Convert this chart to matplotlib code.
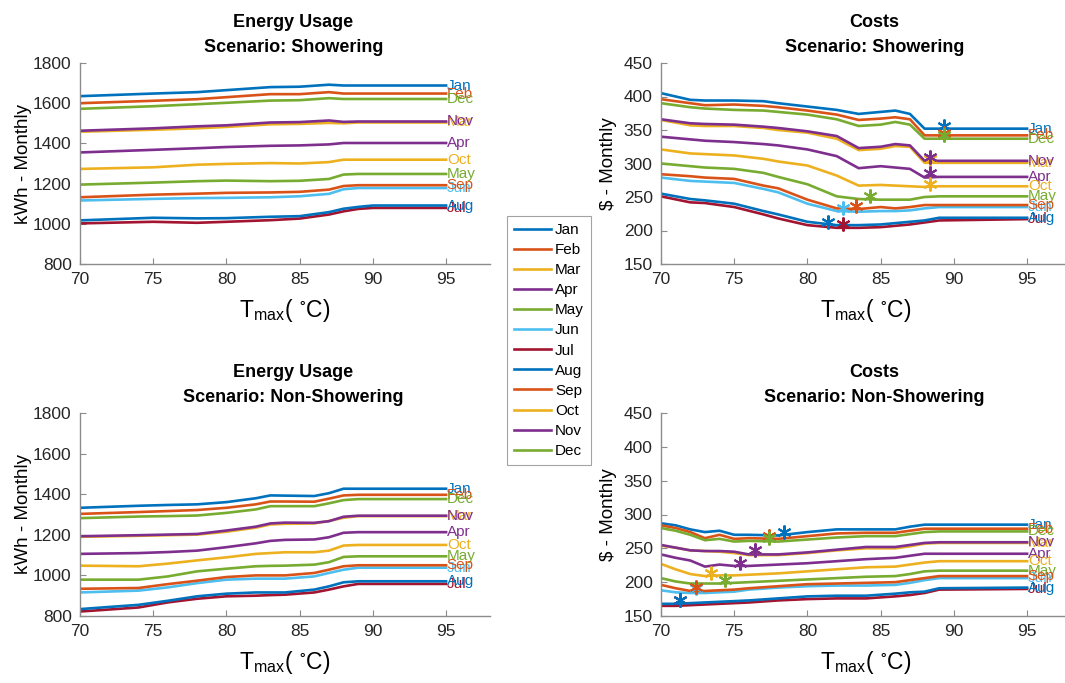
import matplotlib
matplotlib.use("Agg")
import matplotlib.pyplot as plt
import numpy as np

plt.rcParams['font.family'] = ['Liberation Sans', 'DejaVu Sans']
plt.rcParams['mathtext.fontset'] = 'custom'
plt.rcParams['mathtext.rm'] = 'Liberation Sans'

months = ["Jan", "Feb", "Mar", "Apr", "May", "Jun", "Jul", "Aug", "Sep", "Oct", "Nov", "Dec"]
colors = ["#0072BD", "#D95319", "#EDB120", "#7E2F8E", "#77AC30", "#4DBEEE", "#A2142F",
          "#0072BD", "#D95319", "#EDB120", "#7E2F8E", "#77AC30"]

# ---- Energy Usage, Showering ----
x_es = [70, 75, 78, 80, 83, 85, 87, 88, 89, 90, 95]
energy_shower = {
    "Jan": [1635, 1648, 1655, 1665, 1680, 1682, 1692, 1688, 1688, 1688, 1688],
    "Feb": [1600, 1612, 1620, 1630, 1645, 1645, 1655, 1648, 1648, 1648, 1648],
    "Mar": [1458, 1468, 1475, 1482, 1495, 1497, 1502, 1500, 1504, 1504, 1504],
    "Apr": [1355, 1368, 1376, 1382, 1388, 1390, 1395, 1402, 1402, 1402, 1402],
    "May": [1195, 1205, 1212, 1215, 1212, 1214, 1223, 1245, 1248, 1248, 1248],
    "Jun": [1116, 1124, 1128, 1129, 1132, 1137, 1149, 1172, 1178, 1178, 1178],
    "Jul": [1002, 1010, 1005, 1010, 1018, 1026, 1046, 1062, 1074, 1079, 1079],
    "Aug": [1017, 1030, 1027, 1028, 1035, 1038, 1058, 1075, 1084, 1091, 1091],
    "Sep": [1132, 1145, 1150, 1154, 1156, 1159, 1170, 1188, 1192, 1192, 1192],
    "Oct": [1273, 1281, 1294, 1298, 1302, 1300, 1307, 1319, 1319, 1319, 1319],
    "Nov": [1463, 1475, 1485, 1490, 1504, 1506, 1514, 1507, 1509, 1509, 1509],
    "Dec": [1572, 1585, 1595, 1602, 1613, 1615, 1625, 1621, 1621, 1621, 1621],
}

# ---- Costs, Showering ----
x_cs = [70, 72, 73, 75, 77, 78, 80, 82, 83.5, 85, 86, 87, 88, 89, 95]
cost_shower = {
    "Jan": [405, 395, 394, 394, 393, 390, 385, 380, 374, 377, 379, 374, 352, 352, 352],
    "Feb": [396, 390, 387, 388, 386, 384, 379, 373, 365, 367, 369, 366, 342, 342, 342],
    "Mar": [365, 357, 356, 356, 353, 350, 346, 337, 320, 322, 326, 325, 301, 301, 301],
    "Apr": [340, 336, 334, 332, 329, 327, 321, 311, 293, 296, 294, 292, 279, 280, 280],
    "May": [300, 296, 294, 292, 286, 280, 269, 251, 247, 246, 246, 246, 250, 251, 251],
    "Jun": [279, 274, 273, 271, 262, 257, 240, 229, 228, 229, 229, 230, 233, 235, 235],
    "Jul": [251, 242, 241, 235, 224, 218, 208, 204, 204, 205, 207, 209, 212, 215, 217],
    "Aug": [255, 247, 245, 240, 229, 224, 213, 208, 208, 209, 211, 213, 215, 219, 219],
    "Sep": [284, 281, 279, 277, 267, 263, 246, 233, 232, 235, 233, 235, 238, 238, 238],
    "Oct": [321, 315, 314, 312, 307, 303, 297, 282, 267, 268, 267, 266, 265, 266, 266],
    "Nov": [366, 360, 359, 358, 355, 353, 348, 341, 323, 325, 329, 327, 304, 304, 304],
    "Dec": [390, 384, 382, 380, 379, 377, 373, 366, 356, 358, 362, 358, 337, 337, 337],
}
star_x_cs = [89.3, 89.3, 88.4, 88.4, 84.3, 82.4, 82.4, 81.4, 83.3, 88.4, 88.4, 89.3]
star_y_cs = [356, 346, 306, 286, 252, 233, 209, 213, 237, 270, 309, 342]

# ---- Energy Usage, Non-Showering ----
x_en = [70, 74, 76, 78, 80, 82, 83, 84, 86, 87, 88, 89, 95]
energy_nonshower = {
    "Jan": [1333, 1343, 1347, 1350, 1361, 1380, 1394, 1393, 1391, 1405, 1427, 1427, 1427],
    "Feb": [1303, 1312, 1317, 1322, 1333, 1350, 1364, 1364, 1363, 1378, 1394, 1397, 1397],
    "Mar": [1190, 1195, 1198, 1201, 1215, 1235, 1251, 1254, 1256, 1268, 1284, 1292, 1292],
    "Apr": [1106, 1110, 1115, 1122, 1139, 1158, 1170, 1175, 1177, 1188, 1210, 1213, 1213],
    "May": [979, 979, 995, 1020, 1033, 1045, 1047, 1048, 1053, 1065, 1091, 1094, 1094],
    "Jun": [916, 925, 941, 962, 979, 984, 984, 984, 995, 1012, 1028, 1038, 1038],
    "Jul": [822, 842, 867, 885, 897, 900, 903, 905, 916, 930, 946, 958, 958],
    "Aug": [834, 855, 875, 897, 910, 916, 916, 916, 930, 946, 966, 971, 971],
    "Sep": [934, 938, 957, 974, 992, 1000, 1000, 1000, 1012, 1028, 1045, 1050, 1050],
    "Oct": [1048, 1045, 1058, 1074, 1089, 1106, 1110, 1114, 1114, 1122, 1147, 1150, 1150],
    "Nov": [1193, 1198, 1201, 1204, 1221, 1240, 1256, 1260, 1259, 1267, 1289, 1294, 1294],
    "Dec": [1282, 1290, 1292, 1295, 1308, 1325, 1341, 1341, 1341, 1355, 1371, 1376, 1376],
}

# ---- Costs, Non-Showering ----
x_cn = [70, 71, 72, 73, 74, 75, 76, 78, 80, 82, 84, 86, 87, 88, 89, 95]
cost_nonshower = {
    "Jan": [287, 284, 278, 274, 276, 270, 270, 269, 274, 278, 278, 278, 282, 285, 285, 285],
    "Feb": [284, 280, 274, 265, 270, 264, 265, 264, 268, 272, 273, 273, 276, 279, 279, 279],
    "Mar": [254, 251, 247, 246, 245, 243, 240, 240, 243, 247, 250, 250, 253, 257, 258, 258],
    "Apr": [241, 236, 232, 223, 226, 224, 224, 226, 228, 231, 234, 236, 239, 242, 242, 242],
    "May": [206, 201, 198, 198, 198, 199, 200, 202, 204, 206, 208, 209, 212, 216, 217, 217],
    "Jun": [188, 185, 184, 184, 185, 186, 189, 192, 194, 195, 195, 196, 199, 203, 206, 206],
    "Jul": [165, 165, 166, 167, 168, 169, 170, 173, 175, 176, 176, 179, 181, 184, 189, 190],
    "Aug": [168, 168, 169, 170, 171, 172, 173, 176, 179, 180, 180, 183, 185, 186, 191, 192],
    "Sep": [196, 191, 187, 187, 188, 189, 191, 194, 197, 198, 199, 200, 203, 206, 209, 209],
    "Oct": [227, 219, 212, 209, 210, 210, 211, 213, 216, 219, 222, 223, 226, 229, 231, 231],
    "Nov": [255, 251, 247, 246, 246, 245, 241, 241, 244, 248, 252, 252, 255, 258, 259, 259],
    "Dec": [280, 276, 270, 262, 264, 260, 261, 260, 263, 266, 268, 268, 271, 274, 275, 275],
}
star_x_cn = [78.4, 77.4, 76.4, 75.4, 74.4, 72.4, 71.3, 71.3, 72.4, 73.4, 76.4, 77.4]
star_y_cn = [274, 268, 247, 229, 203, 191, 173, 174, 193, 214, 247, 265]

W, H = 1065, 683
fig = plt.figure(figsize=(W / 100, H / 100), dpi=100)

def fx(px):
    return px / W

def fy(py):
    return 1 - py / H

ax_tl = fig.add_axes([fx(80), fy(264), fx(410), (264 - 63) / H])
ax_tr = fig.add_axes([fx(661), fy(264), fx(410), (264 - 63) / H])
ax_bl = fig.add_axes([fx(80), fy(616), fx(410), (616 - 413) / H])
ax_br = fig.add_axes([fx(661), fy(616), fx(410), (616 - 413) / H])

xlabel = r'$\mathregular{T_{max}(\ ^{\circ}C)}$'
gray = "#8c8c8c"

def style(ax, ylim, yticks, title1, title2, ylabel, ylabelpad):
    ax.set_xlim(70, 98)
    ax.set_ylim(*ylim)
    ax.set_xticks([70, 75, 80, 85, 90, 95])
    ax.set_yticks(yticks)
    for s in ["top", "right"]:
        ax.spines[s].set_visible(False)
    for s in ["left", "bottom"]:
        ax.spines[s].set_color(gray)
        ax.spines[s].set_linewidth(1.0)
    ax.tick_params(direction="in", length=4, color=gray, labelsize=12.5,
                   labelcolor="#262626", width=0.8, pad=6)
    ax.set_title(title1 + "\n" + title2, fontsize=13, fontweight="bold",
                 x=0.52, pad=8, linespacing=1.6)
    ax.set_xlabel(xlabel, fontsize=16.5, labelpad=7)
    ax.set_ylabel(ylabel, fontsize=13.5, labelpad=ylabelpad)

def draw(ax, xs, data, star_x=None, star_y=None):
    lines = []
    for i, m in enumerate(months):
        ln, = ax.plot(xs, data[m], color=colors[i], lw=1.9, label=m, solid_joinstyle="round")
        lines.append(ln)
    if star_x is not None:
        for i, m in enumerate(months):
            ax.plot(star_x[i], star_y[i], linestyle="none", marker=(6, 2, 0),
                    markersize=10, mew=1.5, color=colors[i])
    for i, m in enumerate(months):
        ax.text(xs[-1] + 0.05, data[m][-1], m, color=colors[i], fontsize=11,
                va="center", ha="left")
    return lines

handles = draw(ax_tl, x_es, energy_shower)
draw(ax_tr, x_cs, cost_shower, star_x_cs, star_y_cs)
draw(ax_bl, x_en, energy_nonshower)
draw(ax_br, x_cn, cost_nonshower, star_x_cn, star_y_cn)

style(ax_tl, (800, 1800), [800, 1000, 1200, 1400, 1600, 1800],
      "Energy Usage", "Scenario: Showering", "kWh - Monthly", 1)
style(ax_tr, (150, 450), [150, 200, 250, 300, 350, 400, 450],
      "Costs", "Scenario: Showering", "$ - Monthly", 5)
style(ax_bl, (800, 1800), [800, 1000, 1200, 1400, 1600, 1800],
      "Energy Usage", "Scenario: Non-Showering", "kWh - Monthly", 1)
style(ax_br, (150, 450), [150, 200, 250, 300, 350, 400, 450],
      "Costs", "Scenario: Non-Showering", "$ - Monthly", 5)

leg = fig.legend(handles=handles, labels=months, loc="upper left",
                 bbox_to_anchor=(fx(507), fy(216)), fontsize=11,
                 frameon=True, fancybox=False, edgecolor=gray,
                 handlelength=2.4, handletextpad=0.3, labelspacing=0.40,
                 borderpad=0.45, borderaxespad=0.0)
leg.get_frame().set_linewidth(0.8)

fig.savefig("out.png", dpi=100)
